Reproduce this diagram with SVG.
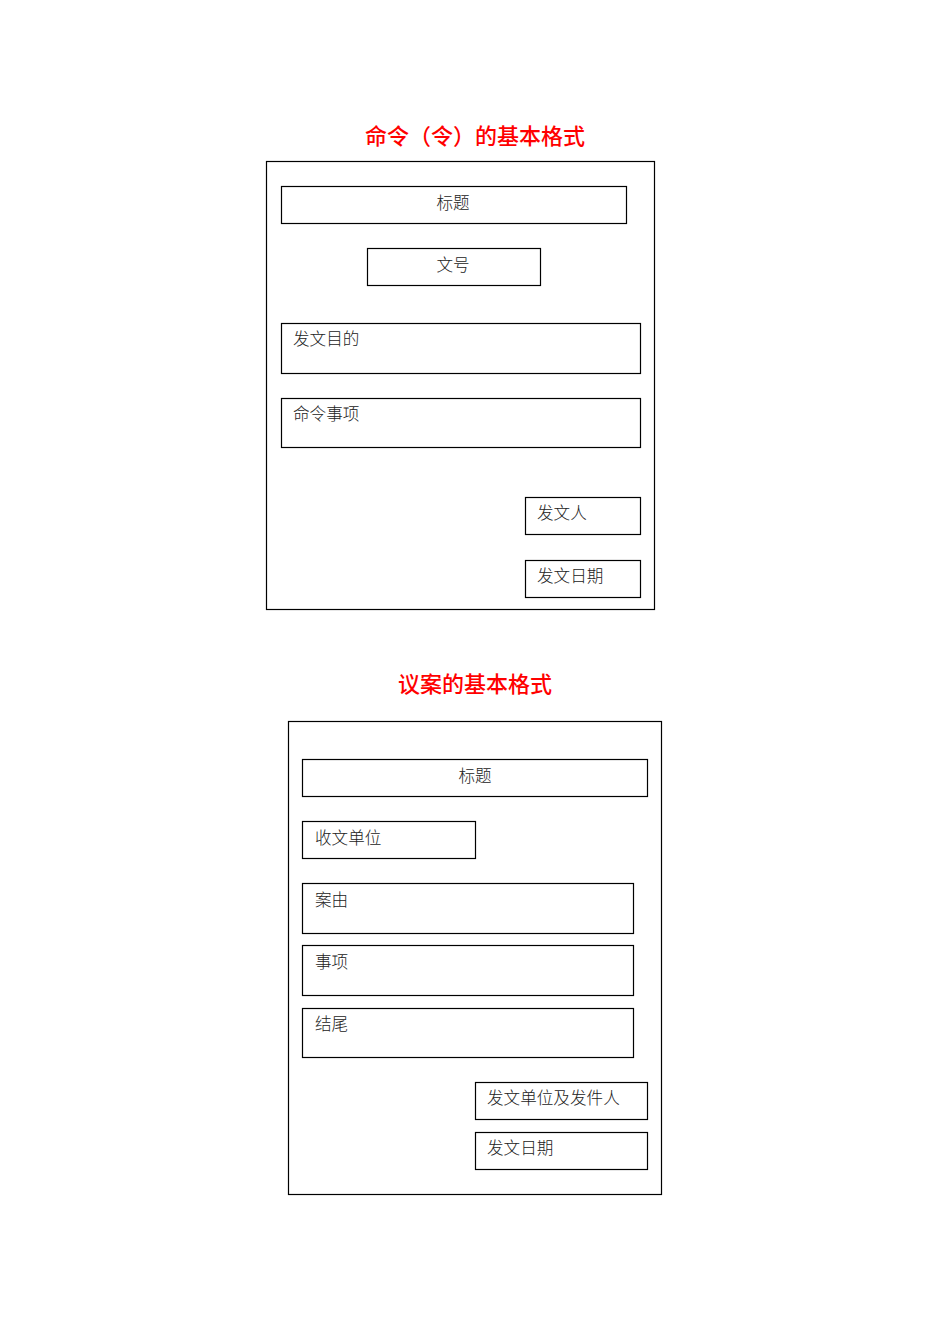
<svg xmlns="http://www.w3.org/2000/svg" width="950" height="1344" viewBox="0 0 950 1344">
<style>
.t{font-family:"Noto Sans CJK SC","Liberation Sans",sans-serif;font-size:22px;fill:#ff0000;text-anchor:middle;font-weight:500}
.b{fill:#fff;stroke:#000;stroke-width:1.2}
.l{font-family:"Noto Sans CJK SC","Liberation Sans",sans-serif;font-size:16.6px;fill:#222;font-weight:300}
.c{text-anchor:middle}
</style>
<rect width="950" height="1344" fill="#fff"/>
<text class="t" x="475" y="144">命令（令）的基本格式</text>
<g id="frame1"><rect class="b" x="266.5" y="161.5" width="388" height="448"/></g>
<g id="n1"><rect class="b" x="281.5" y="186.5" width="345" height="37"/><text class="l c" x="453" y="209">标题</text></g>
<g id="n2"><rect class="b" x="367.5" y="248.5" width="173" height="37"/><text class="l c" x="453" y="271">文号</text></g>
<g id="n3"><rect class="b" x="281.5" y="323.5" width="359" height="50"/><text class="l" x="293" y="345">发文目的</text></g>
<g id="n4"><rect class="b" x="281.5" y="398.5" width="359" height="49"/><text class="l" x="293" y="420">命令事项</text></g>
<g id="n5"><rect class="b" x="525.5" y="497.5" width="115" height="37"/><text class="l" x="537" y="519">发文人</text></g>
<g id="n6"><rect class="b" x="525.5" y="560.5" width="115" height="37"/><text class="l" x="537" y="582">发文日期</text></g>
<text class="t" x="475" y="692">议案的基本格式</text>
<g id="frame2"><rect class="b" x="288.5" y="721.5" width="373" height="473"/></g>
<g id="m1"><rect class="b" x="302.5" y="759.5" width="345" height="37"/><text class="l c" x="475" y="782">标题</text></g>
<g id="m2"><rect class="b" x="302.5" y="821.5" width="173" height="37"/><text class="l" x="315" y="844">收文单位</text></g>
<g id="m3"><rect class="b" x="302.5" y="883.5" width="331" height="50"/><text class="l" x="315" y="906">案由</text></g>
<g id="m4"><rect class="b" x="302.5" y="945.5" width="331" height="50"/><text class="l" x="315" y="968">事项</text></g>
<g id="m5"><rect class="b" x="302.5" y="1008.5" width="331" height="49"/><text class="l" x="315" y="1030">结尾</text></g>
<g id="m6"><rect class="b" x="475.5" y="1082.5" width="172" height="37"/><text class="l" x="487" y="1104">发文单位及发件人</text></g>
<g id="m7"><rect class="b" x="475.5" y="1132.5" width="172" height="37"/><text class="l" x="487" y="1154">发文日期</text></g>
<g id="connectors"/>
</svg>
